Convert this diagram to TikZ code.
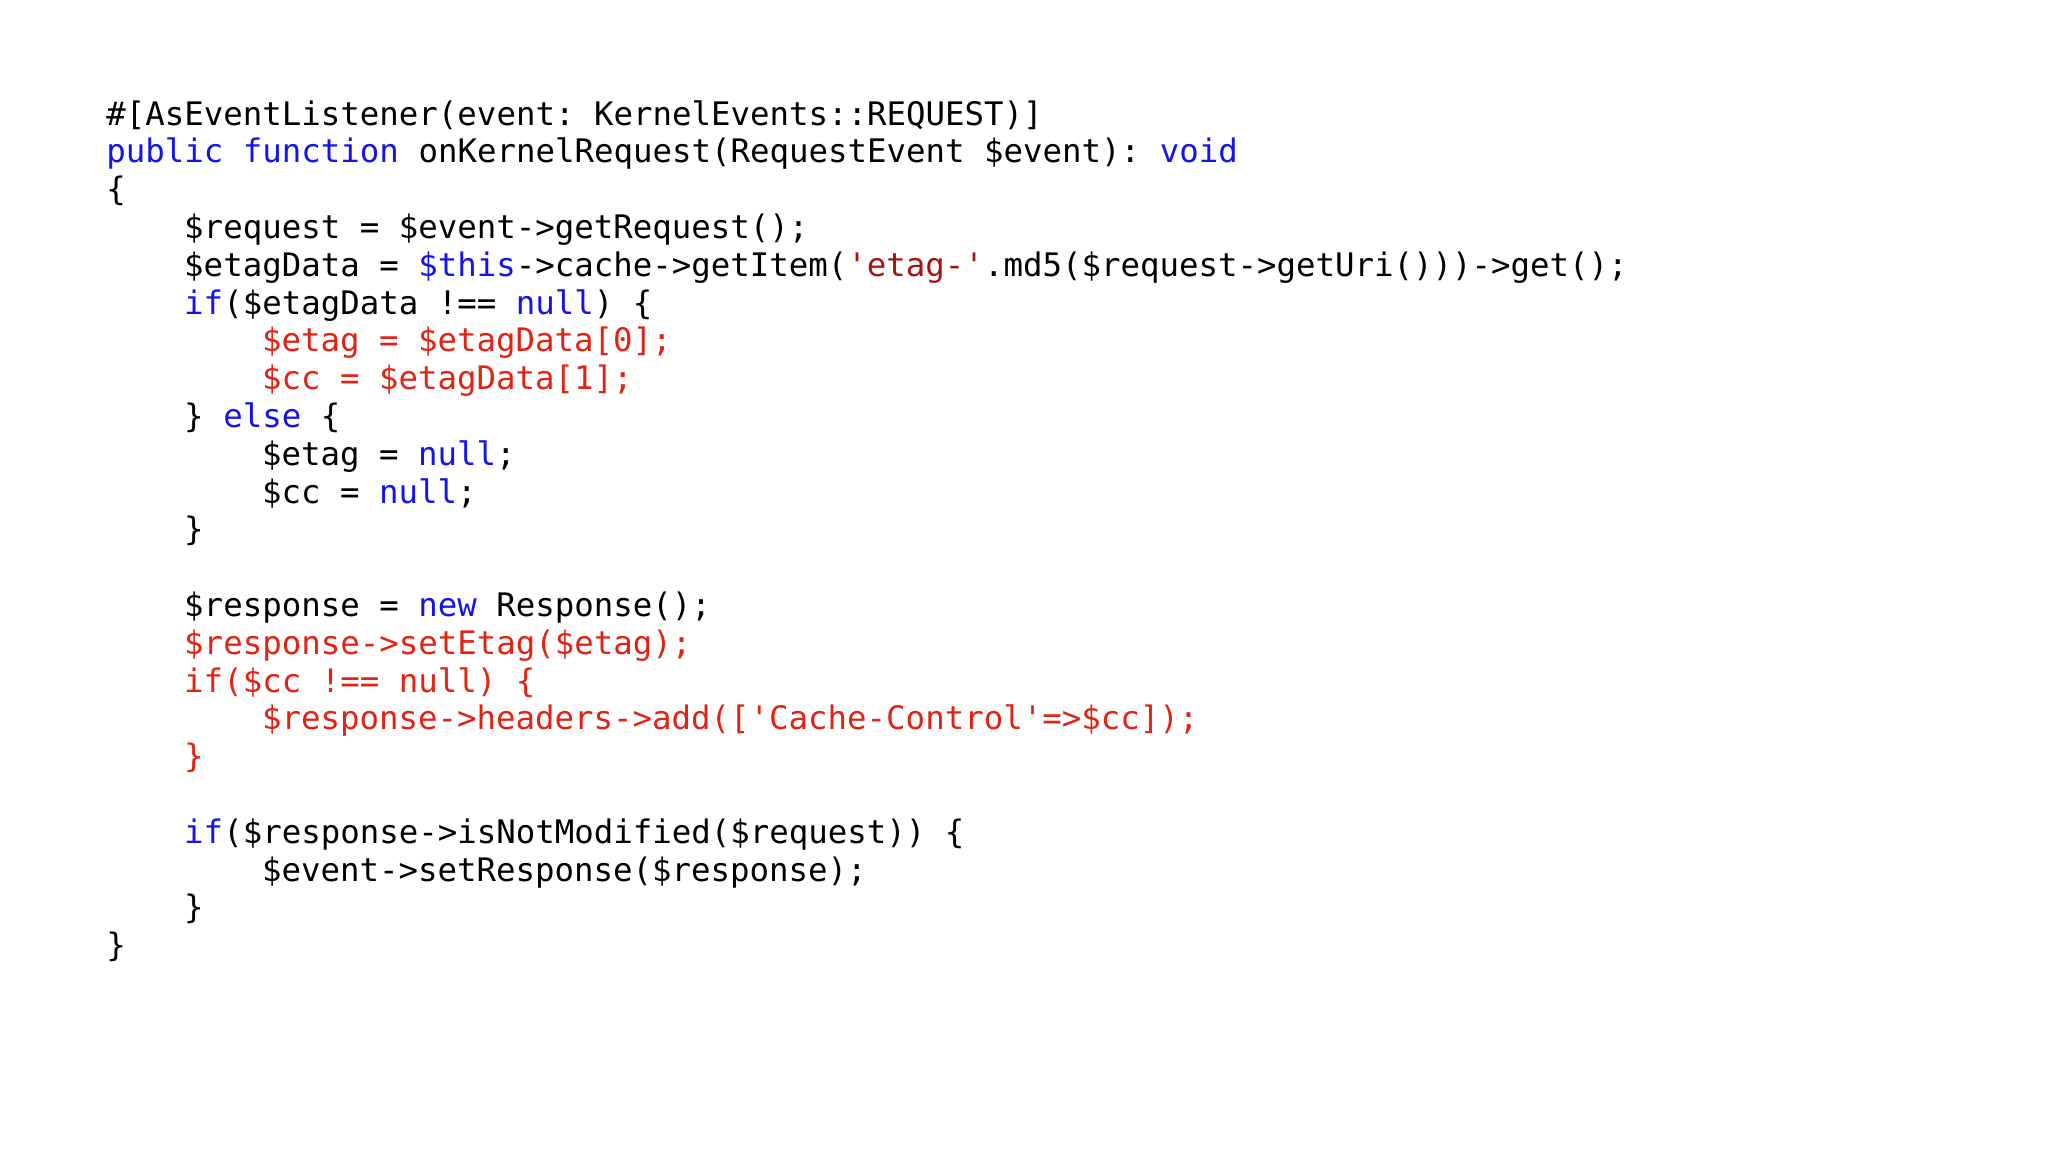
\documentclass[tikz,border=0pt]{standalone}
\usepackage{fontspec}
\setmonofont{DejaVu Sans Mono}
\definecolor{kw}{RGB}{20,20,235}
\definecolor{hl}{RGB}{225,35,20}
\definecolor{str}{RGB}{165,20,20}
\newcommand{\kw}[1]{\textcolor{kw}{#1}}
\begin{document}
\begin{tikzpicture}[x=1pt,y=1pt,
  code/.style={anchor=base west,inner sep=0pt,font=\ttfamily\fontsize{16.2}{18.9}\selectfont},
  red/.style={code,text=hl}]
\useasboundingbox (0,0) rectangle (1024,-576);
\def\cw{9.73}\def\ls{18.9}\def\x0{53}\def\y0{-62.5}
\node[code] (l0) at (\x0,\y0) {\#[AsEventListener(event: KernelEvents::REQUEST)]};
\node[code] (l1) at (\x0,\y0-1*\ls) {\kw{public} \kw{function} onKernelRequest(RequestEvent \$event): \kw{void}};
\node[code] (l2) at (\x0,\y0-2*\ls) {\{};
\node[code] (l3) at (\x0+4*\cw,\y0-3*\ls) {\$request = \$event->getRequest();};
\node[code] (l4) at (\x0+4*\cw,\y0-4*\ls) {\$etagData = \kw{\$this}->cache->getItem(\textcolor{str}{'etag-'}.md5(\$request->getUri()))->get();};
\node[code] (l5) at (\x0+4*\cw,\y0-5*\ls) {\kw{if}(\$etagData !== \kw{null}) \{};
\node[red] (l6) at (\x0+8*\cw,\y0-6*\ls) {\$etag = \$etagData[0];};
\node[red] (l7) at (\x0+8*\cw,\y0-7*\ls) {\$cc = \$etagData[1];};
\node[code] (l8) at (\x0+4*\cw,\y0-8*\ls) {\} \kw{else} \{};
\node[code] (l9) at (\x0+8*\cw,\y0-9*\ls) {\$etag = \kw{null};};
\node[code] (l10) at (\x0+8*\cw,\y0-10*\ls) {\$cc = \kw{null};};
\node[code] (l11) at (\x0+4*\cw,\y0-11*\ls) {\}};
\node[code] (l13) at (\x0+4*\cw,\y0-13*\ls) {\$response = \kw{new} Response();};
\node[red] (l14) at (\x0+4*\cw,\y0-14*\ls) {\$response->setEtag(\$etag);};
\node[red] (l15) at (\x0+4*\cw,\y0-15*\ls) {if(\$cc !== null) \{};
\node[red] (l16) at (\x0+8*\cw,\y0-16*\ls) {\$response->headers->add(['Cache-Control'=>\$cc]);};
\node[red] (l17) at (\x0+4*\cw,\y0-17*\ls) {\}};
\node[code] (l19) at (\x0+4*\cw,\y0-19*\ls) {\kw{if}(\$response->isNotModified(\$request)) \{};
\node[code] (l20) at (\x0+8*\cw,\y0-20*\ls) {\$event->setResponse(\$response);};
\node[code] (l21) at (\x0+4*\cw,\y0-21*\ls) {\}};
\node[code] (l22) at (\x0,\y0-22*\ls) {\}};
\end{tikzpicture}
\end{document}
